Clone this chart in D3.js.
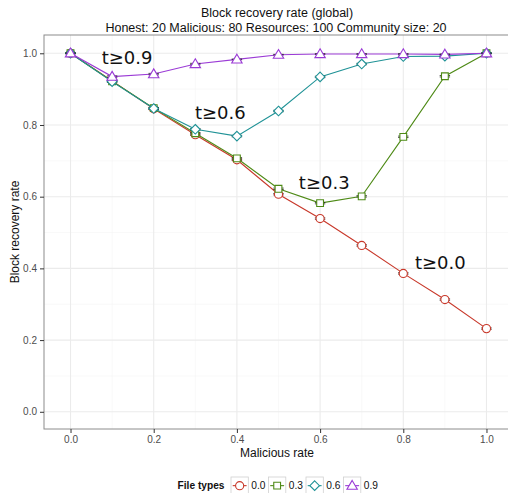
<!DOCTYPE html>
<html>
<head>
<meta charset="utf-8">
<script src="https://cdn.jsdelivr.net/npm/d3@7"></script>
<style>
  html, body { margin: 0; padding: 0; background: #fff; }
  svg { display: block; font-family: "Liberation Sans", Arial, Helvetica, sans-serif; }
</style>
</head>
<body>
<svg id="chart" width="508" height="493"></svg>
<script>
// Malicious rate on the x axis
const maliciousRate = [0.0, 0.1, 0.2, 0.3, 0.4, 0.5, 0.6, 0.7, 0.8, 0.9, 1.0];

// Block recovery rate per file-type threshold
const rateT00 = [1.000, 0.923, 0.845, 0.773, 0.703, 0.607, 0.539, 0.464, 0.386, 0.313, 0.232];
const rateT03 = [1.000, 0.922, 0.847, 0.777, 0.707, 0.622, 0.582, 0.601, 0.767, 0.936, 1.000];
const rateT06 = [1.000, 0.921, 0.846, 0.788, 0.769, 0.839, 0.934, 0.970, 0.991, 0.992, 1.000];
const rateT09 = [1.000, 0.935, 0.942, 0.970, 0.983, 0.996, 0.998, 0.998, 0.998, 0.997, 1.000];

// Standard error around each mean
const errT00 = [0.001, 0.002, 0.002, 0.002, 0.002, 0.002, 0.002, 0.002, 0.002, 0.002, 0.002];
const errT03 = [0.001, 0.002, 0.002, 0.002, 0.002, 0.002, 0.002, 0.002, 0.002, 0.002, 0.001];
const errT06 = [0.001, 0.002, 0.002, 0.002, 0.002, 0.002, 0.002, 0.002, 0.001, 0.001, 0.001];
const errT09 = [0.001, 0.002, 0.002, 0.002, 0.001, 0.001, 0.001, 0.001, 0.001, 0.001, 0.001];

const fileTypes = ["0.0", "0.3", "0.6", "0.9"];
const seriesColors = ["#c8382a", "#4e8a16", "#1f9296", "#9b3bd6"];
const seriesShapes = ["circle", "square", "diamond", "triangle"];

// In-plot curve labels: [text, x, y] in data units
const curveLabels = [
  ["t\u22650.9", 0.136, 0.988],
  ["t\u22650.6", 0.36, 0.833],
  ["t\u22650.3", 0.61, 0.639],
  ["t\u22650.0", 0.889, 0.415]
];

const xTicks = [0.0, 0.2, 0.4, 0.6, 0.8, 1.0];
const yTicks = [0.0, 0.2, 0.4, 0.6, 0.8, 1.0];
const xMinor = [0.1, 0.3, 0.5, 0.7, 0.9];
const yMinor = [0.1, 0.3, 0.5, 0.7, 0.9];

const values = [rateT00, rateT03, rateT06, rateT09];
const errors = [errT00, errT03, errT06, errT09];
const series = fileTypes.map((name, i) => ({
  name, color: seriesColors[i], shape: seriesShapes[i],
  points: maliciousRate.map((x, j) => ({ x, y: values[i][j], e: errors[i][j] }))
}));

const svg = d3.select("#chart");
const panel = { left: 44, top: 35, right: 513, bottom: 429 };

const x = d3.scaleLinear().domain([-0.06375, 1.06375]).range([panel.left, panel.right]);
const y = d3.scaleLinear().domain([-0.048, 1.051]).range([panel.bottom, panel.top]);

const clipId = "panel-clip";
svg.append("defs").append("clipPath").attr("id", clipId)
  .append("rect").attr("x", panel.left).attr("y", panel.top)
  .attr("width", panel.right - panel.left).attr("height", panel.bottom - panel.top);

// Grid
const grid = svg.append("g");
grid.selectAll(".xmin").data(xMinor).join("line")
  .attr("x1", d => x(d)).attr("x2", d => x(d)).attr("y1", panel.top).attr("y2", panel.bottom)
  .attr("stroke", "#f5f5f5").attr("stroke-width", 0.6);
grid.selectAll(".ymin").data(yMinor).join("line")
  .attr("y1", d => y(d)).attr("y2", d => y(d)).attr("x1", panel.left).attr("x2", panel.right)
  .attr("stroke", "#f5f5f5").attr("stroke-width", 0.6);
grid.selectAll(".xmaj").data(xTicks).join("line")
  .attr("x1", d => x(d)).attr("x2", d => x(d)).attr("y1", panel.top).attr("y2", panel.bottom)
  .attr("stroke", "#ebebeb").attr("stroke-width", 1.1);
grid.selectAll(".ymaj").data(yTicks).join("line")
  .attr("y1", d => y(d)).attr("y2", d => y(d)).attr("x1", panel.left).attr("x2", panel.right)
  .attr("stroke", "#ebebeb").attr("stroke-width", 1.1);

function shapePath(shape) {
  if (shape === "diamond") return "M0,-4.8L4.8,0L0,4.8L-4.8,0Z";
  if (shape === "triangle") return "M0,-5.2L5.2,3.6L-5.2,3.6Z";
  if (shape === "square") return d3.symbol(d3.symbolSquare, 46)();
  return d3.symbol(d3.symbolCircle, 52)();
}

const plot = svg.append("g").attr("clip-path", `url(#${clipId})`);
const line = d3.line().x(d => x(d.x)).y(d => y(d.y));
const halfW = 0.0125;

series.forEach(s => {
  const g = plot.append("g");
  g.append("path").datum(s.points).attr("d", line)
    .attr("fill", "none").attr("stroke", s.color).attr("stroke-width", 1.1);
  // error bars
  const eb = g.append("g").attr("stroke", "#222").attr("stroke-width", 0.8);
  s.points.forEach(p => {
    eb.append("line").attr("x1", x(p.x - halfW)).attr("x2", x(p.x + halfW))
      .attr("y1", y(p.y + p.e)).attr("y2", y(p.y + p.e));
    eb.append("line").attr("x1", x(p.x - halfW)).attr("x2", x(p.x + halfW))
      .attr("y1", y(p.y - p.e)).attr("y2", y(p.y - p.e));
    eb.append("line").attr("x1", x(p.x)).attr("x2", x(p.x))
      .attr("y1", y(p.y + p.e)).attr("y2", y(p.y - p.e));
  });
  g.selectAll("path.pt").data(s.points).join("path").attr("class", "pt")
    .attr("transform", d => `translate(${x(d.x)},${y(d.y)})`)
    .attr("d", shapePath(s.shape))
    .attr("fill", "#fff").attr("stroke", s.color).attr("stroke-width", 1.1);
});

// Curve labels
plot.selectAll("text.lab").data(curveLabels).join("text").attr("class", "lab")
  .attr("x", d => x(d[1])).attr("y", d => y(d[2])).attr("dy", "0.35em")
  .attr("text-anchor", "middle")
  .attr("font-family", "DejaVu Sans, sans-serif").attr("font-size", 18).attr("fill", "#111")
  .text(d => d[0]);

// Panel border
svg.append("rect").attr("x", panel.left).attr("y", panel.top)
  .attr("width", panel.right - panel.left).attr("height", panel.bottom - panel.top)
  .attr("fill", "none").attr("stroke", "#8c8c8c").attr("stroke-width", 1);

// Axes
const xAxis = svg.append("g").attr("transform", `translate(0,${panel.bottom})`)
  .call(d3.axisBottom(x).tickValues(xTicks).tickFormat(d3.format(".1f")).tickSize(4).tickPadding(3));
const yAxis = svg.append("g").attr("transform", `translate(${panel.left},0)`)
  .call(d3.axisLeft(y).tickValues(yTicks).tickFormat(d3.format(".1f")).tickSize(4).tickPadding(3));
[xAxis, yAxis].forEach(a => {
  a.select(".domain").remove();
  a.selectAll(".tick line").attr("stroke", "#333");
  a.selectAll(".tick text").attr("fill", "#4d4d4d").attr("font-size", 10)
    .attr("font-family", "Liberation Sans, Arial, sans-serif");
});

// Titles
svg.append("text").attr("x", 277).attr("y", 17).attr("text-anchor", "middle")
  .attr("font-size", 12.5).attr("fill", "#111").text("Block recovery rate (global)");
svg.append("text").attr("x", 276).attr("y", 32).attr("text-anchor", "middle")
  .attr("font-size", 12.5).attr("fill", "#111")
  .text("Honest: 20 Malicious: 80 Resources: 100 Community size: 20");
svg.append("text").attr("x", 277).attr("y", 457).attr("text-anchor", "middle")
  .attr("font-size", 12).attr("fill", "#111").text("Malicious rate");
svg.append("text").attr("transform", "translate(19,232) rotate(-90)").attr("text-anchor", "middle")
  .attr("font-size", 12).attr("fill", "#111").text("Block recovery rate");

// Legend
const legend = svg.append("g");
legend.append("text").attr("x", 177.5).attr("y", 489).attr("font-size", 10.2)
  .attr("font-weight", "bold").attr("fill", "#111").text("File types");
const keyX = [231, 268.5, 306, 343.5];
series.forEach((s, i) => {
  const kx = keyX[i], ky = 477, ks = 17.3;
  const k = legend.append("g");
  k.append("rect").attr("x", kx).attr("y", ky).attr("width", ks).attr("height", ks)
    .attr("fill", "#fff").attr("stroke", "#d0d0d0").attr("stroke-width", 0.8);
  k.append("line").attr("x1", kx + 1.7).attr("x2", kx + ks - 1.7)
    .attr("y1", ky + ks / 2).attr("y2", ky + ks / 2)
    .attr("stroke", s.color).attr("stroke-width", 1.1);
  k.append("path").attr("transform", `translate(${kx + ks / 2},${ky + ks / 2})`)
    .attr("d", shapePath(s.shape)).attr("fill", "#fff")
    .attr("stroke", s.color).attr("stroke-width", 1.1);
  k.append("text").attr("x", kx + ks + 3).attr("y", 489).attr("font-size", 10.2)
    .attr("fill", "#111").text(s.name);
});
</script>
</body>
</html>
